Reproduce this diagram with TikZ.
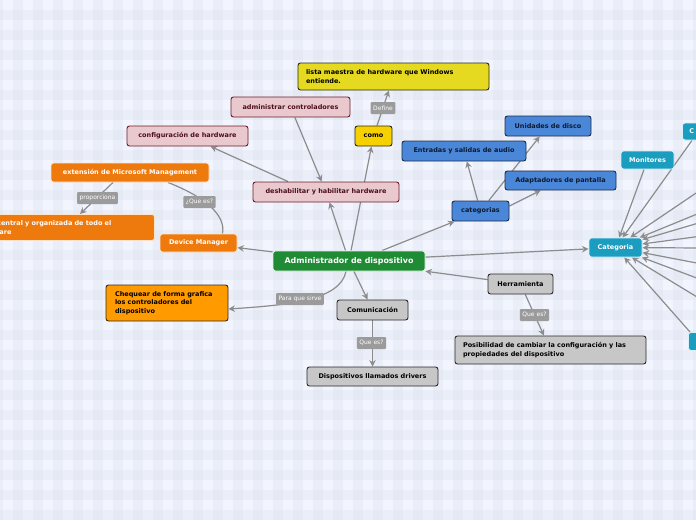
\documentclass[tikz,border=0pt]{standalone}
\usepackage{fontspec}
\setmainfont{DejaVu Sans}
\usetikzlibrary{arrows.meta,calc}
\pgfdeclarelayer{grid}
\pgfdeclarelayer{edges}
\pgfsetlayers{grid,edges,main}
\definecolor{bgA}{HTML}{F2F5FE}
\definecolor{bgB}{HTML}{D9DFEB}
\definecolor{edgeC}{HTML}{8C8C8C}
\definecolor{pinkF}{HTML}{E9C9CD}
\definecolor{pinkD}{HTML}{6E1C2C}
\definecolor{pinkT}{HTML}{4D0F1D}
\definecolor{ylwF}{HTML}{E5DA1F}
\definecolor{ylwD}{HTML}{2B2B10}
\definecolor{gldF}{HTML}{F6D000}
\definecolor{blueF}{HTML}{4A87D8}
\definecolor{blueD}{HTML}{1B2A48}
\definecolor{blueT}{HTML}{0E1A30}
\definecolor{tealF}{HTML}{1A9DBF}
\definecolor{tealD}{HTML}{D8F0F6}
\definecolor{orF}{HTML}{EE7A0E}
\definecolor{orD}{HTML}{FBE3CC}
\definecolor{chqF}{HTML}{FF9A00}
\definecolor{chqD}{HTML}{3A2A10}
\definecolor{grnF}{HTML}{1F8C35}
\definecolor{grnD}{HTML}{E0F0E0}
\definecolor{gryF}{HTML}{C7C7C7}
\definecolor{gryD}{HTML}{2A2A2A}
\definecolor{lblF}{HTML}{9B9B9B}
\tikzset{
  sz/.style 2 args={minimum width=#1pt, minimum height=#2pt},
  box/.style={rounded corners=2.5pt, line width=0.9pt, inner sep=0pt, align=center,
    font=\bfseries\fontsize{6.5}{9}\selectfont},
  pinkbox/.style={box, draw=pinkD, fill=pinkF, text=pinkT},
  ylwbox/.style={box, draw=ylwD, fill=ylwF, text=black},
  gldbox/.style={box, draw=ylwD, fill=gldF, text=black},
  bluebox/.style={box, draw=blueD, fill=blueF, text=blueT},
  tealbox/.style={box, draw=tealD, fill=tealF, text=white},
  orbox/.style={box, draw=orD, fill=orF, text=white},
  chqbox/.style={box, draw=chqD, fill=chqF, text=black},
  rootbox/.style={box, draw=grnD, fill=grnF, text=white, font=\bfseries\fontsize{7.9}{9}\selectfont},
  graybox/.style={box, draw=gryD, fill=gryF, text=black},
  lbl/.style={fill=lblF, text=white, font=\fontsize{6}{7}\selectfont, inner xsep=2.5pt,
    inner ysep=0pt, minimum height=12pt, rounded corners=1pt},
  conn/.style={draw=edgeC, line width=1.2pt, -{Stealth[length=6.5pt,width=6.5pt]}},
  plainc/.style={draw=edgeC, line width=1.2pt}
}
\begin{document}
\begin{tikzpicture}[x=1pt,y=-1pt]
\useasboundingbox (0,0) rectangle (696,520);
\begin{pgfonlayer}{grid}
\fill[bgA] (0,0) rectangle (696,520);
\foreach \k in {0,...,25} \fill[bgB,fill opacity=0.3] (0,10+20*\k) rectangle (696,20+20*\k);
\foreach \k in {-1,...,34} \fill[bgB,fill opacity=0.3] (13+20*\k,0) rectangle (23+20*\k,520);
\end{pgfonlayer}

% nodes
\node[ylwbox, sz={191}{27}, text width=175pt, align=left] (lista) at (393.5,76.5) {lista maestra de hardware que Windows\\entiende.};
\node[pinkbox, sz={119}{20}] (adm) at (290.5,107) {administrar controladores};
\node[lbl] (def) at (383,108) {Define};
\node[gldbox, sz={37}{20}] (como) at (373.5,136) {como};
\node[pinkbox, sz={121}{20}] (conf) at (187.5,136) {configuración de hardware};
\node[bluebox, sz={124}{20}] (ent) at (464,151) {Entradas y salidas de audio};
\node[bluebox, sz={86}{20}] (uni) at (548,126) {Unidades de disco};
\node[bluebox, sz={111}{19}] (adap) at (560.5,180.5) {Adaptadores de pantalla};
\node[bluebox, sz={57}{20}] (cats) at (480.5,211) {categorias};
\node[tealbox, sz={53}{18}] (mon) at (647.5,160) {Monitores};
\node[tealbox, sz={50}{17}, anchor=west, text width=36pt, align=left] (cpart) at (682,131.5) {C};
\node[tealbox, sz={53}{19}] (catg) at (615.5,247.5) {Categoria};
\node[tealbox, sz={50}{18}, anchor=north west] (bpart) at (688,332) {};
\node[orbox, sz={158}{19}] (ext) at (130,172.5) {extensión de Microsoft Management};
\node[lbl] (prop) at (97.5,198) {proporciona};
\node[orbox, sz={186}{26}, anchor=north east, text width=170pt, align=left] (cen) at (155,214) {Vista central y organizada de todo el\\hardware};
\node[lbl] (qes1) at (199.5,202) {¿Que es?};
\node[orbox, sz={77}{18}] (dm) at (198.5,243) {Device Manager};
\node[pinkbox, sz={146}{20}] (desh) at (326,192) {deshabilitar y habilitar hardware};
\node[rootbox, sz={152}{20}] (root) at (349,261) {Administrador de dispositivo};
\node[chqbox, sz={122}{36}, text width=104pt, align=left, font=\bfseries\fontsize{6.5}{8.3}\selectfont] (chq) at (167,303) {Chequear de forma grafica\\los controladores del\\dispositivo};
\node[lbl] (pqs) at (300,299) {Para que sirve};
\node[graybox, sz={71}{20}] (com) at (372.5,310) {Comunicación};
\node[lbl] (qes2) at (371.5,343) {Que es?};
\node[graybox, sz={131}{19}] (disp) at (372.5,376.5) {Dispositivos llamados drivers};
\node[graybox, sz={65}{20}] (herr) at (520.5,284) {Herramienta};
\node[lbl] (qes3) at (534.5,315) {Que es?};
\node[graybox, sz={191}{28}, text width=175pt, align=left] (pos) at (550.5,350) {Posibilidad de cambiar la configuración y las\\propiedades del dispositivo};

\foreach \n/\y in {1/189,2/212,3/222,4/236,5/248,6/264,7/280,8/300}
  \coordinate (r\n) at (702,\y);

% connectors
\begin{pgfonlayer}{edges}
\draw[conn] (root) -- (desh);
\draw[conn] (root) -- (como);
\draw[conn] (adm) -- (desh);
\draw[conn] ($(desh.north)+(-38,0)$) -- (conf);
\draw[conn] (como) -- (lista);
\draw[conn] ($(root.north)+(33,0)$) -- (cats);
\draw[conn] (cats) -- (ent);
\draw[conn] (cats) -- (uni);
\draw[conn] ($(cats.east)+(0,-5)$) -- (adap);
\draw[conn] (root) -- (catg);
\draw[conn] (mon) -- (catg);
\draw[conn] ($(cpart.south west)+(10,0)$) -- (catg);
\draw[conn] ($(bpart.north west)+(2,0)$) -- (catg);
\foreach \n in {1,...,8} \draw[conn] (r\n) -- (catg);
\draw[conn] (root) -- (dm);
\draw[plainc] ($(ext.south)+(38,0)$) .. controls (205,197) and (226,215) .. ($(dm.north)+(24,0)$);
\draw[conn] ($(ext.south)+(-17,0)$) -- ($(cen.north east)+(-75,0)$);
\draw[conn] ($(root.south)+(-3,0)$) .. controls (340,300) and (290,305) .. ($(chq.east)+(0,6)$);
\draw[conn] (root) -- (com);
\draw[conn] (com) -- (disp);
\draw[conn] (herr) -- (root);
\draw[conn] (herr) -- (pos);
\end{pgfonlayer}
\end{tikzpicture}
\end{document}
